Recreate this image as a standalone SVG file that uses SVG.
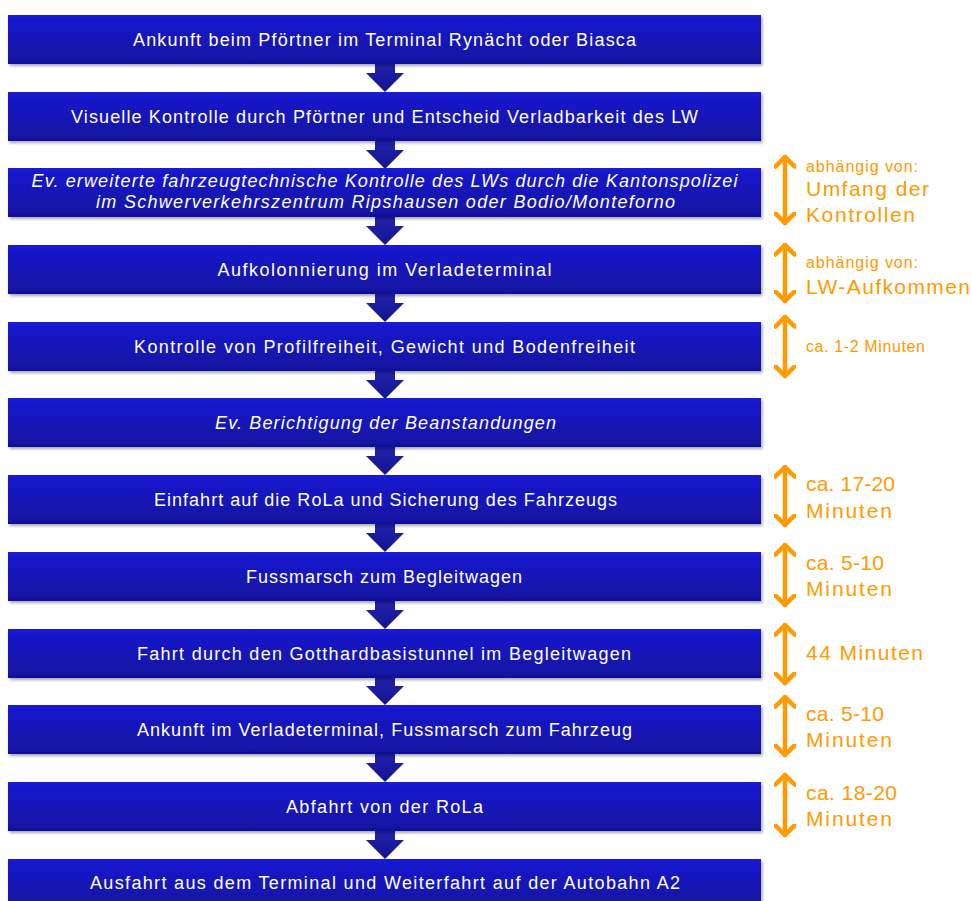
<svg xmlns="http://www.w3.org/2000/svg" width="972" height="901" viewBox="0 0 972 901">
<defs>
<linearGradient id="boxg" x1="0" y1="0" x2="0" y2="1">
<stop offset="0" stop-color="#1a1ad2"/>
<stop offset="1" stop-color="#11119f"/>
</linearGradient>
<linearGradient id="arrg" x1="0" y1="0" x2="0" y2="1">
<stop offset="0" stop-color="#2323b4"/>
<stop offset="1" stop-color="#14148c"/>
</linearGradient>
<filter id="sh" x="-5%" y="-20%" width="110%" height="150%">
<feDropShadow dx="1.5" dy="2" stdDeviation="1.5" flood-color="#000" flood-opacity="0.35"/>
</filter>
<marker id="oh" viewBox="0 0 14 22" refX="11.5" refY="11" markerWidth="14" markerHeight="22" markerUnits="userSpaceOnUse" orient="auto-start-reverse">
<path d="M2,1.5 L11.5,11 L2,20.5" fill="none" stroke="#ff9a00" stroke-width="4.5" stroke-linecap="round" stroke-linejoin="round"/>
</marker>
</defs>
<style>
.box{fill:url(#boxg);filter:url(#sh)}
.t{font-family:"Liberation Sans",Arial,sans-serif;font-size:18px;fill:#fff;text-anchor:middle}
.i{font-style:italic}
.arr{fill:url(#arrg)}
.oa{stroke:#ff9a00;stroke-width:4.5;fill:none;stroke-linecap:round}
.os{font-family:"Liberation Sans",Arial,sans-serif;font-size:16px;fill:#ff9a00}
.ol{font-family:"Liberation Sans",Arial,sans-serif;font-size:21px;fill:#ff9a00}
</style>
<g id="connectors">
<path class="arr" d="M375,62 H395 V73 H404 L385,92 L366,73 H375 Z"/>
<path class="arr" d="M375,139 H395 V150 H404 L385,169 L366,150 H375 Z"/>
<path class="arr" d="M375,215 H395 V226 H404 L385,245 L366,226 H375 Z"/>
<path class="arr" d="M375,292 H395 V303 H404 L385,322 L366,303 H375 Z"/>
<path class="arr" d="M375,369 H395 V380 H404 L385,399 L366,380 H375 Z"/>
<path class="arr" d="M375,445 H395 V456 H404 L385,475 L366,456 H375 Z"/>
<path class="arr" d="M375,522 H395 V533 H404 L385,552 L366,533 H375 Z"/>
<path class="arr" d="M375,599 H395 V610 H404 L385,629 L366,610 H375 Z"/>
<path class="arr" d="M375,675 H395 V686 H404 L385,705 L366,686 H375 Z"/>
<path class="arr" d="M375,752 H395 V763 H404 L385,782 L366,763 H375 Z"/>
<path class="arr" d="M375,829 H395 V840 H404 L385,859 L366,840 H375 Z"/>
</g>
<g id="n1"><rect class="box" x="8" y="15" width="753" height="49"/><text class="t" x="384.5" y="46" textLength="503" lengthAdjust="spacing">Ankunft beim Pförtner im Terminal Rynächt oder Biasca</text></g>
<g id="n2"><rect class="box" x="8" y="92" width="753" height="49"/><text class="t" x="384.5" y="123" textLength="627" lengthAdjust="spacing">Visuelle Kontrolle durch Pförtner und Entscheid Verladbarkeit des LW</text></g>
<g id="n3"><rect class="box" x="8" y="168" width="753" height="49"/><text class="t i" x="384.5" y="187" textLength="706" lengthAdjust="spacing">Ev. erweiterte fahrzeugtechnische Kontrolle des LWs durch die Kantonspolizei</text><text class="t i" x="385.5" y="208" textLength="579" lengthAdjust="spacing">im Schwerverkehrszentrum Ripshausen oder Bodio/Monteforno</text></g>
<g id="n4"><rect class="box" x="8" y="245" width="753" height="49"/><text class="t" x="384.5" y="276" textLength="334" lengthAdjust="spacing">Aufkolonnierung im Verladeterminal</text></g>
<g id="n5"><rect class="box" x="8" y="322" width="753" height="49"/><text class="t" x="384.5" y="353" textLength="501" lengthAdjust="spacing">Kontrolle von Profilfreiheit, Gewicht und Bodenfreiheit</text></g>
<g id="n6"><rect class="box" x="8" y="398" width="753" height="49"/><text class="t i" x="385.5" y="429" textLength="341" lengthAdjust="spacing">Ev. Berichtigung der Beanstandungen</text></g>
<g id="n7"><rect class="box" x="8" y="475" width="753" height="49"/><text class="t" x="385.5" y="506" textLength="463" lengthAdjust="spacing">Einfahrt auf die RoLa und Sicherung des Fahrzeugs</text></g>
<g id="n8"><rect class="box" x="8" y="552" width="753" height="49"/><text class="t" x="384" y="583" textLength="276" lengthAdjust="spacing">Fussmarsch zum Begleitwagen</text></g>
<g id="n9"><rect class="box" x="8" y="629" width="753" height="49"/><text class="t" x="384" y="660" textLength="494" lengthAdjust="spacing">Fahrt durch den Gotthardbasistunnel im Begleitwagen</text></g>
<g id="n10"><rect class="box" x="8" y="705" width="753" height="49"/><text class="t" x="384.5" y="736" textLength="495" lengthAdjust="spacing">Ankunft im Verladeterminal, Fussmarsch zum Fahrzeug</text></g>
<g id="n11"><rect class="box" x="8" y="782" width="753" height="49"/><text class="t" x="384.5" y="813" textLength="197" lengthAdjust="spacing">Abfahrt von der RoLa</text></g>
<g id="n12"><rect class="box" x="8" y="859" width="753" height="49"/><text class="t" x="385" y="889" textLength="590" lengthAdjust="spacing">Ausfahrt aus dem Terminal und Weiterfahrt auf der Autobahn A2</text></g>
<g id="durations">
<line class="oa" x1="785" y1="157" x2="785" y2="223" marker-start="url(#oh)" marker-end="url(#oh)"/>
<text class="os" x="806" y="172" textLength="112" lengthAdjust="spacing">abhängig von:</text>
<text class="ol" x="806" y="196" textLength="123" lengthAdjust="spacing">Umfang der</text>
<text class="ol" x="806" y="222" textLength="109" lengthAdjust="spacing">Kontrollen</text>
<line class="oa" x1="785" y1="245" x2="785" y2="301" marker-start="url(#oh)" marker-end="url(#oh)"/>
<text class="os" x="806" y="268" textLength="112" lengthAdjust="spacing">abhängig von:</text>
<text class="ol" x="806" y="294" textLength="164" lengthAdjust="spacing">LW-Aufkommen</text>
<line class="oa" x1="785" y1="317" x2="785" y2="376" marker-start="url(#oh)" marker-end="url(#oh)"/>
<text class="os" x="806" y="352" textLength="119" lengthAdjust="spacing">ca. 1-2 Minuten</text>
<line class="oa" x1="785" y1="467" x2="785" y2="525" marker-start="url(#oh)" marker-end="url(#oh)"/>
<text class="ol" x="806" y="491" textLength="89" lengthAdjust="spacing">ca. 17-20</text>
<text class="ol" x="806" y="518" textLength="86" lengthAdjust="spacing">Minuten</text>
<line class="oa" x1="785" y1="545" x2="785" y2="605" marker-start="url(#oh)" marker-end="url(#oh)"/>
<text class="ol" x="806" y="570" textLength="78" lengthAdjust="spacing">ca. 5-10</text>
<text class="ol" x="806" y="596" textLength="86" lengthAdjust="spacing">Minuten</text>
<line class="oa" x1="785" y1="625" x2="785" y2="683" marker-start="url(#oh)" marker-end="url(#oh)"/>
<text class="ol" x="806" y="660" textLength="117" lengthAdjust="spacing">44 Minuten</text>
<line class="oa" x1="785" y1="697" x2="785" y2="755" marker-start="url(#oh)" marker-end="url(#oh)"/>
<text class="ol" x="806" y="721" textLength="78" lengthAdjust="spacing">ca. 5-10</text>
<text class="ol" x="806" y="747" textLength="86" lengthAdjust="spacing">Minuten</text>
<line class="oa" x1="785" y1="775" x2="785" y2="835" marker-start="url(#oh)" marker-end="url(#oh)"/>
<text class="ol" x="806" y="800" textLength="91" lengthAdjust="spacing">ca. 18-20</text>
<text class="ol" x="806" y="826" textLength="86" lengthAdjust="spacing">Minuten</text>
</g>
</svg>
